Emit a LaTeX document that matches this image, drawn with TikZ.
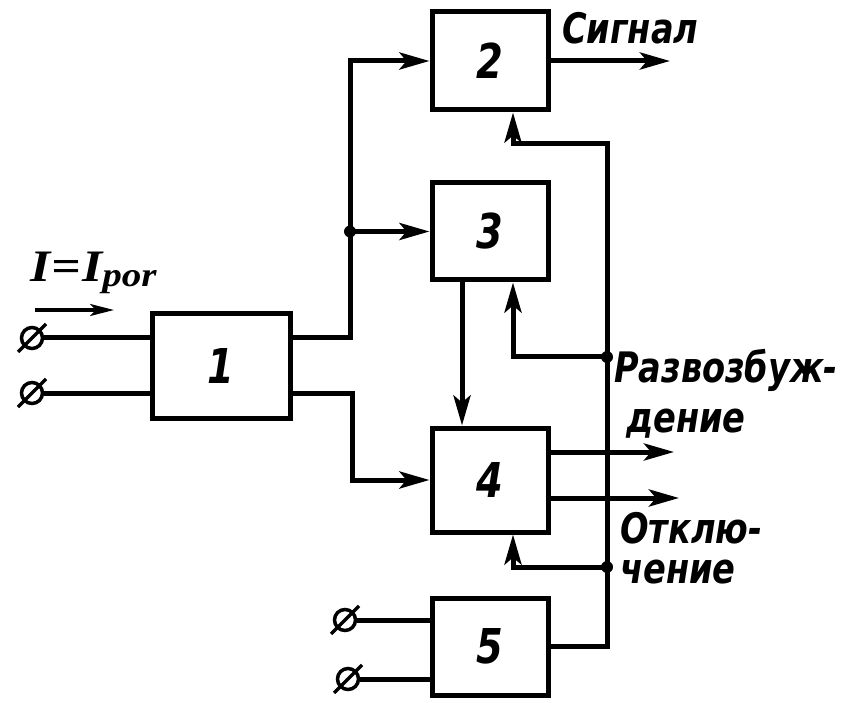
\documentclass[tikz,border=0pt]{standalone}
\usepackage{fontspec}
\setmainfont{DejaVu Sans}
\newfontfamily\lbl[FakeStretch=0.8]{DejaVu Sans}
\newfontfamily\ser{Liberation Serif}
\usetikzlibrary{arrows.meta,calc}
\begin{document}
\begin{tikzpicture}[x=1pt,y=-1pt,
  ln/.style={line width=5pt},
  arr/.style={line width=5pt,-{Stealth[length=30pt,width=17pt,inset=7pt]}},
  blk/.style={draw,line width=5pt,minimum width=116pt,minimum height=98pt,inner sep=0pt,font=\lbl\fontsize{48}{50}\selectfont\bfseries\itshape},
  term/.style={draw,circle,line width=3.5pt,minimum size=21pt,inner sep=0pt},
  slash/.style={line width=3.5pt},
  jdot/.style={circle,fill,minimum size=12pt,inner sep=0pt},
  lab/.style={anchor=west,inner sep=0pt,font=\lbl\fontsize{42}{44}\selectfont\bfseries\itshape}]
\useasboundingbox (0,0) rectangle (841,703);
% blocks
\node[blk,minimum width=138pt,minimum height=104pt] (b1) at (221,366) {1};
\node[blk] (b2) at (490,61) {2};
\node[blk,minimum height=97pt] (b3) at (490,231.5) {3};
\node[blk,minimum height=104pt] (b4) at (490,480) {4};
\node[blk,minimum height=97pt] (b5) at (490,646.5) {5};
% terminals
\node[term] (t1) at (32,338) {};
\node[term] (t2) at (32,393) {};
\node[term] (t3) at (345,620) {};
\node[term] (t4) at (348,679) {};
\foreach \t in {t1,t2,t3,t4}{
  \draw[slash] ($(\t)+(-14,14)$) -- ($(\t)+(14,-14)$);
}
\draw[ln] (t1.east) -- (b1.west |- t1);
\draw[ln] (t2.east) -- (b1.west |- t2);
\draw[ln] (t3.east) -- (b5.west |- t3);
\draw[ln] (t4.east) -- (b5.west |- t4);
% current label and arrow
\node[anchor=west,inner sep=0pt] (il) at (30,273) {\scalebox{1.15}[1]{\ser\bfseries\itshape\fontsize{45}{47}\selectfont I\kern1pt=\kern1pt I\raisebox{-0.25ex}{\fontsize{34}{36}\selectfont por}}};
\coordinate (ia) at (35,310);
\coordinate (ib) at (114,310);
\draw[line width=3.5pt,-{Stealth[length=24pt,width=12pt,inset=6pt]}] (ia) -- (ib);
% block 1 outputs
\coordinate (a1) at (350,338);
\coordinate (j1) at (a1 |- b3.west);
\coordinate (c1) at (352,393);
\draw[arr] (b1.east |- t1) -- (a1) -- (a1 |- b2.west) -- (b2.west);
\draw[arr] (j1) -- (b3.west);
\node[jdot] (jd1) at (j1) {};
\draw[arr] (b1.east |- t2) -- (c1) -- (c1 |- b4.west) -- (b4.west);
% 3 -> 4
\coordinate (d) at (462,0);
\draw[arr] (d |- b3.south) -- (d |- b4.north);
% bus and feedback
\coordinate (e) at (513,0);
\coordinate (bt) at (607,144);
\coordinate (bb) at (bt |- b5.east);
\coordinate (k1) at (607,357);
\coordinate (k2) at (607,567);
\draw[arr] (b5.east) -- (bb) -- (bt) -- (e |- bt) -- (e |- b2.south);
\draw[arr] (k1) -| (e |- b3.south);
\draw[arr] (k2) -| (e |- b4.south);
\node[jdot] (kd1) at (k1) {};
\node[jdot] (kd2) at (k2) {};
% outputs
\coordinate (o1) at (670,61);
\coordinate (o2) at (674,452);
\coordinate (o3) at (679,498);
\draw[arr] (b2.east) -- (o1);
\draw[arr] (b4.east |- o2) -- (o2);
\draw[arr] (b4.east |- o3) -- (o3);
% labels
\node[lab] (l1) at (562,28) {Сигнал};
\node[lab] (l2) at (614,370) {Развозбуж-};
\node[lab] (l3) at (626,424) {дение};
\node[lab] (l4) at (620,528) {Отклю-};
\node[lab] (l5) at (620,572) {чение};
\end{tikzpicture}
\end{document}
